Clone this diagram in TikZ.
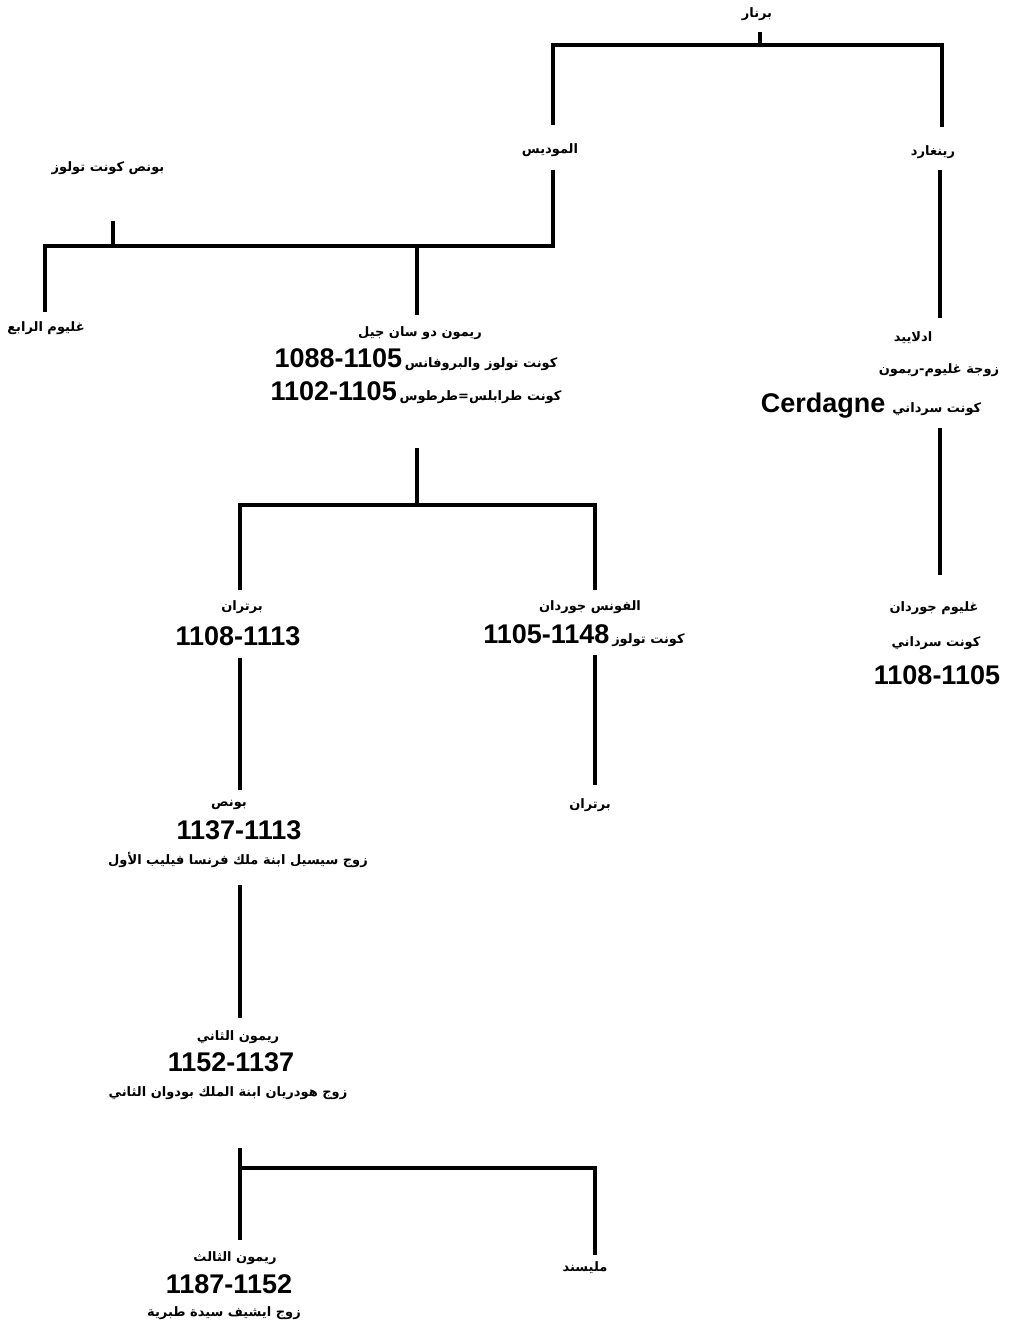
\documentclass[tikz,border=0pt]{standalone}
\usepackage{fontspec}
\setmainfont{Liberation Sans}
\newfontfamily\arfont[Script=Arabic]{DejaVu Sans}
\TeXXeTstate=1
\newcommand{\AR}[1]{{\fontsize{13}{15}\selectfont\arfont\bfseries\beginR #1\endR}}
\newcommand{\NUM}[1]{{\fontsize{27}{30}\selectfont\bfseries #1}}
\begin{document}
\begin{tikzpicture}[x=1pt,y=-1pt,
  lbl/.style={inner sep=0pt, outer sep=0pt, align=center},
  numl/.style={inner sep=0pt, outer sep=0pt},
  link/.style={line width=3.2pt, line cap=butt, line join=miter}]
\useasboundingbox (0,0) rectangle (1016,1331);
% --- texts ---
\node[lbl] (bernard) at (757,14) {\AR{برنار}};
\node[lbl] (almodis) at (550,150) {\AR{الموديس}};
\node[lbl] (reinhard) at (933,152) {\AR{رينغارد}};
\node[lbl] (pons) at (108,168) {\AR{بونص كونت تولوز}};
\node[lbl] (guil4) at (46,328) {\AR{غليوم الرابع}};
\node[lbl] (ray1) at (420,333) {\AR{ريمون دو سان جيل}};
\node[numl] (ray2) at (416,360) {\NUM{1088-1105} \AR{كونت تولوز والبروفانس}};
\node[numl] (ray3) at (416,393) {\NUM{1102-1105} \AR{كونت طرابلس=طرطوس}};
\node[lbl] (adel1) at (913,338) {\AR{ادلاييد}};
\node[lbl] (adel2) at (939,370) {\AR{زوجة غليوم-ريمون}};
\node[numl] (adel3) at (871,406) {{\fontsize{27}{30}\selectfont\bfseries Cerdagne}\hspace{7pt}\AR{كونت سرداني}};
\node[lbl] (gj1) at (934,608) {\AR{غليوم جوردان}};
\node[lbl] (gj2) at (936,643) {\AR{كونت سرداني}};
\node[numl] (gj3) at (937,675) {\NUM{1108-1105}};
\node[lbl] (bert1) at (242,607) {\AR{برتران}};
\node[numl] (bert2) at (238,636) {\NUM{1108-1113}};
\node[lbl] (alf1) at (590,607) {\AR{الفونس جوردان}};
\node[numl] (alf2) at (584,636) {\NUM{1105-1148} \AR{كونت تولوز}};
\node[lbl] (bert3) at (590,805) {\AR{برتران}};
\node[lbl] (pons1) at (229,805) {\AR{بونص}};
\node[numl] (pons2) at (239,830) {\NUM{1137-1113}};
\node[lbl] (pons3) at (238,860) {\AR{زوج سيسيل ابنة ملك فرنسا فيليب الأول}};
\node[lbl] (r2a) at (238,1037) {\AR{ريمون الثاني}};
\node[numl] (r2b) at (231,1062) {\NUM{1152-1137}};
\node[lbl] (r2c) at (228,1093) {\AR{زوج هودريان ابنة الملك بودوان الثاني}};
\node[lbl] (r3a) at (235,1258) {\AR{ريمون الثالث}};
\node[numl] (r3b) at (229,1284) {\NUM{1187-1152}};
\node[lbl] (r3c) at (224,1313) {\AR{زوج ايشيف سيدة طبرية}};
\node[lbl] (mel) at (585,1268) {\AR{مليسند}};
% --- line coordinates ---
\coordinate (b0) at (760,32);
\coordinate (b1) at (760,45);
\coordinate (bl) at (553,45);
\coordinate (br) at (942,45);
\coordinate (al0) at (553,125);
\coordinate (re0) at (942,127);
\coordinate (al1) at (553,170);
\coordinate (al2) at (553,246);
\coordinate (pl) at (45,246);
\coordinate (ps0) at (113,221);
\coordinate (ps1) at (113,246);
\coordinate (g4) at (45,312);
\coordinate (rm0) at (417,246);
\coordinate (rm1) at (417,315);
\coordinate (re1) at (940,170);
\coordinate (re2) at (940,318);
\coordinate (ad0) at (940,428);
\coordinate (ad1) at (940,575);
\coordinate (rs0) at (417,448);
\coordinate (rs1) at (417,505);
\coordinate (sl) at (240,505);
\coordinate (sr) at (595,505);
\coordinate (sl1) at (240,590);
\coordinate (sr1) at (595,590);
\coordinate (bt0) at (240,658);
\coordinate (bt1) at (240,790);
\coordinate (af0) at (595,655);
\coordinate (af1) at (595,785);
\coordinate (po0) at (240,885);
\coordinate (po1) at (240,1018);
\coordinate (r20) at (240,1148);
\coordinate (r2j) at (240,1168);
\coordinate (r21) at (240,1240);
\coordinate (mj) at (595,1168);
\coordinate (m1) at (595,1255);
% --- lines ---
\draw[link] (b0) -- (b1);
\draw[link] (al0) -- (bl) -- (br) -- (re0);
\draw[link] (al1) -- (al2) -- (pl) -- (g4);
\draw[link] (ps0) -- (ps1);
\draw[link] (rm0) -- (rm1);
\draw[link] (re1) -- (re2);
\draw[link] (ad0) -- (ad1);
\draw[link] (rs0) -- (rs1);
\draw[link] (sl1) -- (sl) -- (sr) -- (sr1);
\draw[link] (bt0) -- (bt1);
\draw[link] (af0) -- (af1);
\draw[link] (po0) -- (po1);
\draw[link] (r20) -- (r21);
\draw[link] (r2j) -- (mj) -- (m1);
\end{tikzpicture}
\end{document}
